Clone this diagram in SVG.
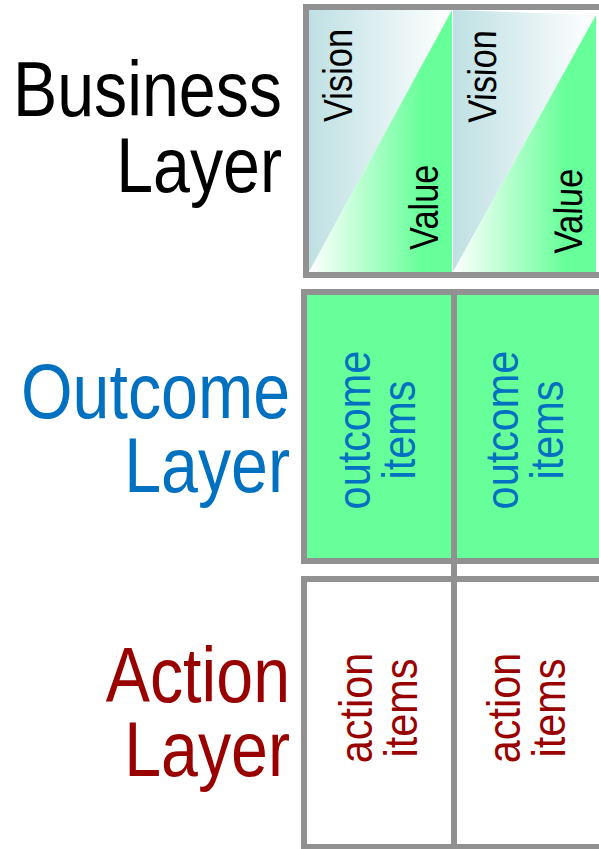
<svg xmlns="http://www.w3.org/2000/svg" width="599" height="849" viewBox="0 0 599 849">
<defs>
<linearGradient id="gVision" x1="309" y1="0" x2="452" y2="0" gradientUnits="userSpaceOnUse">
<stop offset="0" stop-color="#bfe0e3"/><stop offset="1" stop-color="#ffffff"/>
</linearGradient>
<linearGradient id="gValue" x1="309" y1="0" x2="452" y2="0" gradientUnits="userSpaceOnUse">
<stop offset="0" stop-color="#ffffff"/><stop offset="0.8" stop-color="#66ff99"/><stop offset="1" stop-color="#66ff99"/>
</linearGradient>
<g id="bizPanel">
<polygon points="309,10 452,10 309,272" fill="url(#gVision)"/>
<polygon points="452,10 452,272 309,272" fill="url(#gValue)"/>
<text class="pv" transform="translate(352,122) rotate(-90) scale(0.86,1)">Vision</text>
<text class="pv" transform="translate(438,250) rotate(-90) scale(0.86,1)">Value</text>
</g>
</defs>
<style>
.lbl{font-family:"Liberation Sans",Arial,sans-serif;font-size:78px;text-anchor:end}
.pv{font-family:"Liberation Sans",Arial,sans-serif;font-size:40px;fill:#000}
.it{font-family:"Liberation Sans",Arial,sans-serif;font-size:46px;text-anchor:middle}
.frame{stroke:#919191;stroke-width:6;}
.oc{fill:#0070c0}
.ac{fill:#990000}
</style>
<rect x="0" y="0" width="599" height="849" fill="#ffffff"/>

<g id="business-label">
<text class="lbl" fill="#000" transform="translate(282,116) scale(0.85,1)">Business</text>
<text class="lbl" fill="#000" transform="translate(282,192) scale(0.85,1)">Layer</text>
</g>
<g id="outcome-label">
<text class="lbl oc" transform="translate(290,418) scale(0.85,1)">Outcome</text>
<text class="lbl oc" transform="translate(290,492) scale(0.85,1)">Layer</text>
</g>
<g id="action-label">
<text class="lbl ac" transform="translate(290,702) scale(0.85,1)">Action</text>
<text class="lbl ac" transform="translate(290,776) scale(0.85,1)">Layer</text>
</g>

<g id="business-layer">
<use href="#bizPanel"/>
<g transform="translate(452,0) skewY(2) translate(-452,0)">
<use href="#bizPanel" transform="translate(144,0)"/>
</g>
<rect class="frame" x="306" y="7" width="300" height="268" fill="none"/>
</g>

<g id="outcome-layer">
<rect class="frame" x="304" y="292" width="300" height="269" fill="#66ff99"/>
<g id="outcome-1">
<text class="it oc" transform="translate(370,430) rotate(-90) scale(0.9,1)">outcome</text>
<text class="it oc" transform="translate(415,430) rotate(-90) scale(0.9,1)">items</text>
</g>
<g id="outcome-2">
<text class="it oc" transform="translate(518,430) rotate(-90) scale(0.9,1)">outcome</text>
<text class="it oc" transform="translate(563,430) rotate(-90) scale(0.9,1)">items</text>
</g>
</g>

<g id="action-layer">
<rect class="frame" x="304" y="579" width="300" height="268" fill="#ffffff"/>
<g id="action-1">
<text class="it ac" transform="translate(372,708) rotate(-90) scale(0.9,1)">action</text>
<text class="it ac" transform="translate(417,708) rotate(-90) scale(0.9,1)">items</text>
</g>
<g id="action-2">
<text class="it ac" transform="translate(520,708) rotate(-90) scale(0.9,1)">action</text>
<text class="it ac" transform="translate(565,708) rotate(-90) scale(0.9,1)">items</text>
</g>
</g>

<g id="connectors">
<line class="frame" x1="454" y1="292" x2="454" y2="849"/>
</g>
</svg>
